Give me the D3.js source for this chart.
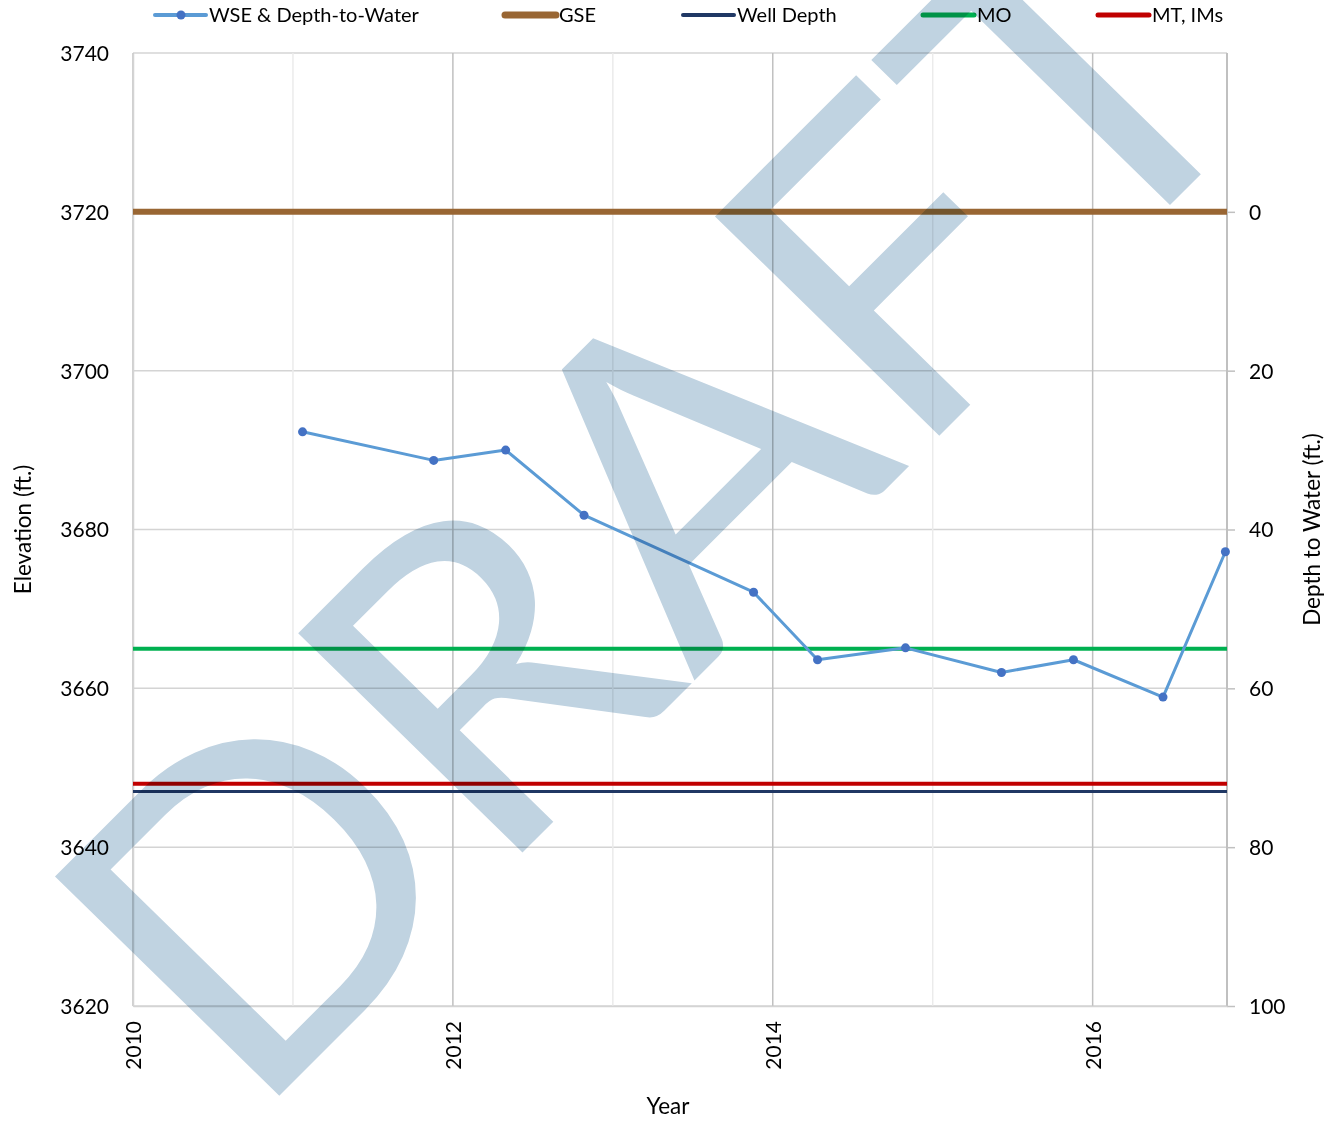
<!DOCTYPE html>
<html lang="en">
<head>
<meta charset="UTF-8">
<title>Hydrograph</title>
<script src="https://d3js.org/d3.v7.min.js"></script>
<style>
  body { margin: 0; background: #fff; }
  text { font-family: Lato, "Noto Sans", sans-serif; fill: #000; }
</style>
</head>
<body>
<script>
  // water surface elevation readings (decimal year, elevation ft)
  const wseYears = [2011.06, 2011.88, 2012.33, 2012.82, 2013.88, 2014.28, 2014.83, 2015.43, 2015.88, 2016.44, 2016.83];
  const wseElev  = [3692.3, 3688.7, 3690.0, 3681.8, 3672.1, 3663.6, 3665.1, 3662.0, 3663.6, 3658.9, 3677.2];

  // reference levels
  const gse = 3720;
  const wellDepth = 3647;
  const mo = 3665;
  const mt = 3648;

  const elevTicks = [3620, 3640, 3660, 3680, 3700, 3720, 3740];
  const depthTicks = [0, 20, 40, 60, 80, 100];
  const yearTicks = [2010, 2012, 2014, 2016];
  const minorYears = [2011, 2013, 2015];
  const xDomain = [2010, 2016.84];

  const legendItems = [
    { name: 'WSE & Depth-to-Water', color: '#5b9bd5', w: 3, dot: true, x: 155 },
    { name: 'GSE', color: '#996633', w: 6, x: 505 },
    { name: 'Well Depth', color: '#203864', w: 3, x: 683 },
    { name: 'MO', color: '#00b050', w: 4, x: 923 },
    { name: 'MT, IMs', color: '#c00000', w: 4, x: 1098 }
  ];

  const W = 1334, H = 1122;
  const margin = { top: 53, right: 107, bottom: 116, left: 133 };
  const width = W - margin.left - margin.right;
  const height = H - margin.top - margin.bottom;

  const svg = d3.select('body').append('svg')
    .attr('width', W)
    .attr('height', H);

  const g = svg.append('g')
    .attr('transform', 'translate(' + margin.left + ',' + margin.top + ')');

  const x = d3.scaleLinear().domain(xDomain).range([0, width]);
  const y = d3.scaleLinear().domain([3620, 3740]).range([height, 0]);
  const yDepth = d3.scaleLinear().domain([100, 0]).range([y(3620), y(3720)]);

  // gridlines
  g.selectAll('.hgrid').data(elevTicks).enter().append('line')
    .attr('x1', 0).attr('x2', width)
    .attr('y1', d => y(d)).attr('y2', d => y(d))
    .attr('stroke', '#d4d4d4').attr('stroke-width', 1.5);

  g.selectAll('.vminor').data(minorYears).enter().append('line')
    .attr('x1', d => x(d)).attr('x2', d => x(d))
    .attr('y1', 0).attr('y2', height)
    .attr('stroke', '#ebebeb').attr('stroke-width', 1.5);

  g.selectAll('.vmajor').data(yearTicks).enter().append('line')
    .attr('x1', d => x(d)).attr('x2', d => x(d))
    .attr('y1', 0).attr('y2', height)
    .attr('stroke', '#c0c0c0').attr('stroke-width', 1.5);

  // right edge / axis line
  g.append('line')
    .attr('x1', width).attr('x2', width).attr('y1', 0).attr('y2', height)
    .attr('stroke', '#c0c0c0').attr('stroke-width', 2);

  // left axis
  const yAxis = g.append('g')
    .call(d3.axisLeft(y).tickValues(elevTicks).tickFormat(d3.format('d')).tickSize(0).tickPadding(24));
  yAxis.select('.domain').attr('stroke', '#d4d4d4').attr('stroke-width', 1.5);
  yAxis.selectAll('text').style('font-size', '21px').attr('dy', '0.35em');

  // right axis (depth to water)
  const yAxisR = g.append('g')
    .attr('transform', 'translate(' + width + ',0)')
    .call(d3.axisRight(yDepth).tickValues(depthTicks).tickSize(8).tickPadding(14));
  yAxisR.select('.domain').remove();
  yAxisR.selectAll('line').attr('stroke', '#c0c0c0').attr('stroke-width', 1.5);
  yAxisR.selectAll('text').style('font-size', '21px').attr('dy', '0.35em');

  // bottom axis
  const xAxis = g.append('g')
    .attr('transform', 'translate(0,' + height + ')')
    .call(d3.axisBottom(x).tickValues(yearTicks).tickFormat(d3.format('d')).tickSize(0));
  xAxis.select('.domain').attr('stroke', '#d4d4d4').attr('stroke-width', 1.5);
  xAxis.selectAll('text')
    .style('font-size', '21px')
    .attr('text-anchor', 'end')
    .attr('transform', 'rotate(-90)')
    .attr('x', -15).attr('y', 0).attr('dy', '0.35em');

  // reference lines
  const refs = [
    { v: gse, color: '#996633', w: 6 },
    { v: mo, color: '#00b050', w: 4 },
    { v: mt, color: '#c00000', w: 4 },
    { v: wellDepth, color: '#203864', w: 3 }
  ];
  g.selectAll('.ref').data(refs).enter().append('line')
    .attr('x1', x(xDomain[0])).attr('x2', x(xDomain[1]))
    .attr('y1', d => y(d.v)).attr('y2', d => y(d.v))
    .attr('stroke', d => d.color).attr('stroke-width', d => d.w);

  // WSE series
  const wse = wseYears.map((yr, i) => ({ yr: yr, v: wseElev[i] }));
  g.append('path')
    .datum(wse)
    .attr('fill', 'none')
    .attr('stroke', '#5b9bd5')
    .attr('stroke-width', 3)
    .attr('stroke-linejoin', 'round')
    .attr('d', d3.line().x(d => x(d.yr)).y(d => y(d.v)));
  g.selectAll('.dot').data(wse).enter().append('circle')
    .attr('cx', d => x(d.yr)).attr('cy', d => y(d.v))
    .attr('r', 4.5).attr('fill', '#4472c4');

  // axis titles
  svg.append('text')
    .attr('transform', 'translate(31,' + (margin.top + height / 2) + ') rotate(-90)')
    .attr('text-anchor', 'middle')
    .style('font-size', '22.5px')
    .text('Elevation (ft.)');
  svg.append('text')
    .attr('transform', 'translate(1320,' + (margin.top + height / 2) + ') rotate(-90)')
    .attr('text-anchor', 'middle')
    .style('font-size', '22.5px')
    .text('Depth to Water (ft.)');
  svg.append('text')
    .attr('x', 668).attr('y', 1114)
    .attr('text-anchor', 'middle')
    .style('font-size', '22.5px')
    .text('Year');

  // legend
  const leg = svg.append('g');
  legendItems.forEach(it => {
    leg.append('line')
      .attr('x1', it.x).attr('x2', it.x + 51)
      .attr('y1', 15).attr('y2', 15)
      .attr('stroke', it.color).attr('stroke-width', it.w + 1)
      .attr('stroke-linecap', 'round');
    if (it.dot) {
      leg.append('circle').attr('cx', it.x + 26).attr('cy', 15).attr('r', 4.5).attr('fill', '#4472c4');
    }
    leg.append('text')
      .attr('x', it.x + 54).attr('y', 15).attr('dy', '0.35em')
      .style('font-size', '20px')
      .text(it.name);
  });

  // DRAFT watermark: fit the word so D's stem and F's stem land where they sit in the reference
  const fs = 400;
  const wm = svg.append('text')
    .attr('x', 0).attr('y', 0)
    .style('font-size', fs + 'px')
    .style('font-family', 'Lato, sans-serif')
    .style('fill', '#c0d3e1')
    .style('mix-blend-mode', 'multiply')
    .text('DRAFT');
  const node = wm.node();
  const ctx = document.createElement('canvas').getContext('2d');
  ctx.font = fs + 'px Lato';
  const mD = ctx.measureText('D');
  const capH = mD.actualBoundingBoxAscent;
  const lsb = -mD.actualBoundingBoxLeft;
  const xD = node.getStartPositionOfChar(0).x + lsb;
  const xF = node.getStartPositionOfChar(3).x + lsb;
  const pD = [275, 1100], pF = [935, 440], pTop = [50, 880];
  const a = (pF[0] - pD[0]) / (xF - xD), b = (pF[1] - pD[1]) / (xF - xD);
  const c = -(pTop[0] - pD[0]) / capH, d = -(pTop[1] - pD[1]) / capH;
  const e = pD[0] - a * xD, f = pD[1] - b * xD;
  wm.attr('transform', `matrix(${a},${b},${c},${d},${e},${f})`);
</script>
</body>
</html>
